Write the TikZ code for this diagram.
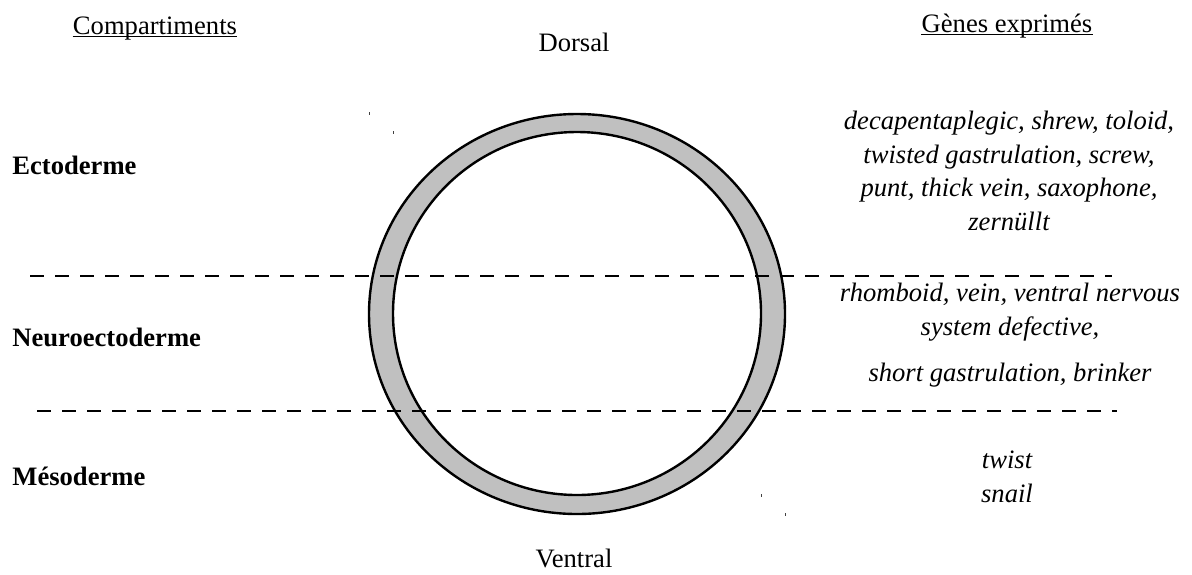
\documentclass[tikz,border=0pt]{standalone}
\usepackage{fontspec}
\setmainfont{Liberation Serif}
\usetikzlibrary{positioning}
\definecolor{ringgray}{RGB}{192,192,192}
\begin{document}
\begin{tikzpicture}[x=0.5pt, y=-0.5pt,
  every node/.style={font=\fontsize{13.3}{16}\selectfont, inner sep=0pt},
  head/.style={anchor=base},
  uline/.style={line width=0.55pt},
  compart/.style={anchor=west, font=\fontsize{13.3}{16}\selectfont\bfseries},
  genes/.style={align=center, font=\fontsize{13.3}{16.8}\selectfont\itshape},
  limit/.style={line width=1pt, dash pattern=on 7pt off 5.5pt},
  ring/.style={draw=black, line width=1.2pt},
  speck/.style={fill=black!75}
]
  \useasboundingbox (0,0) rectangle (1192,574);
  % ring
  \fill[ringgray, even odd rule] (577,314) ellipse [x radius=208, y radius=200]
    (577,313.5) ellipse [x radius=184, y radius=181.5];
  \draw[ring] (577,314) ellipse [x radius=208, y radius=200];
  \draw[ring] (577,313.5) ellipse [x radius=184, y radius=181.5];
  \fill[speck] (368.5,112) rectangle (370,115);
  \fill[speck] (392.5,131) rectangle (394,133.5);
  \fill[speck] (760.5,493.5) rectangle (762,496.5);
  \fill[speck] (784.5,512.5) rectangle (786,515.5);
  % headers
  \node[head] (comp) at (155,34) {Compartiments};
  \node[head] (expr) at (1007,32) {Gènes exprimés};
  \draw[uline] ([yshift=-1.3pt]comp.base west) -- ([yshift=-1.3pt]comp.base east);
  \draw[uline] ([yshift=-1.3pt]expr.base west) -- ([yshift=-1.3pt]expr.base east);
  \node (dorsal) at (574,42) {Dorsal};
  \node (ventral) at (574,558) {Ventral};
  % compartments
  \node[compart] (ecto) at (12,165) {Ectoderme};
  \node[compart] (neuro) at (12,337) {Neuroectoderme};
  \node[compart] (meso) at (12,476) {Mésoderme};
  % limits
  \coordinate (l1a) at (30,275.5);
  \coordinate (l1b) at (1112,275.5);
  \coordinate (l2a) at (37,410.5);
  \coordinate (l2b) at (1117,410.5);
  \draw[limit] (l1a) -- (l1b);
  \draw[limit] (l2a) -- (l2b);
  % genes
  \node[genes] (gecto) at (1009,171) {decapentaplegic, shrew, toloid,\\twisted gastrulation, screw,\\punt, thick vein, saxophone,\\zernüllt};
  \node[genes] (gneuro) at (1010,335) {rhomboid, vein, ventral nervous\\system defective,\\[6pt]short gastrulation, brinker};
  \node[genes] (gmeso) at (1007,477) {twist\\snail};
\end{tikzpicture}
\end{document}
